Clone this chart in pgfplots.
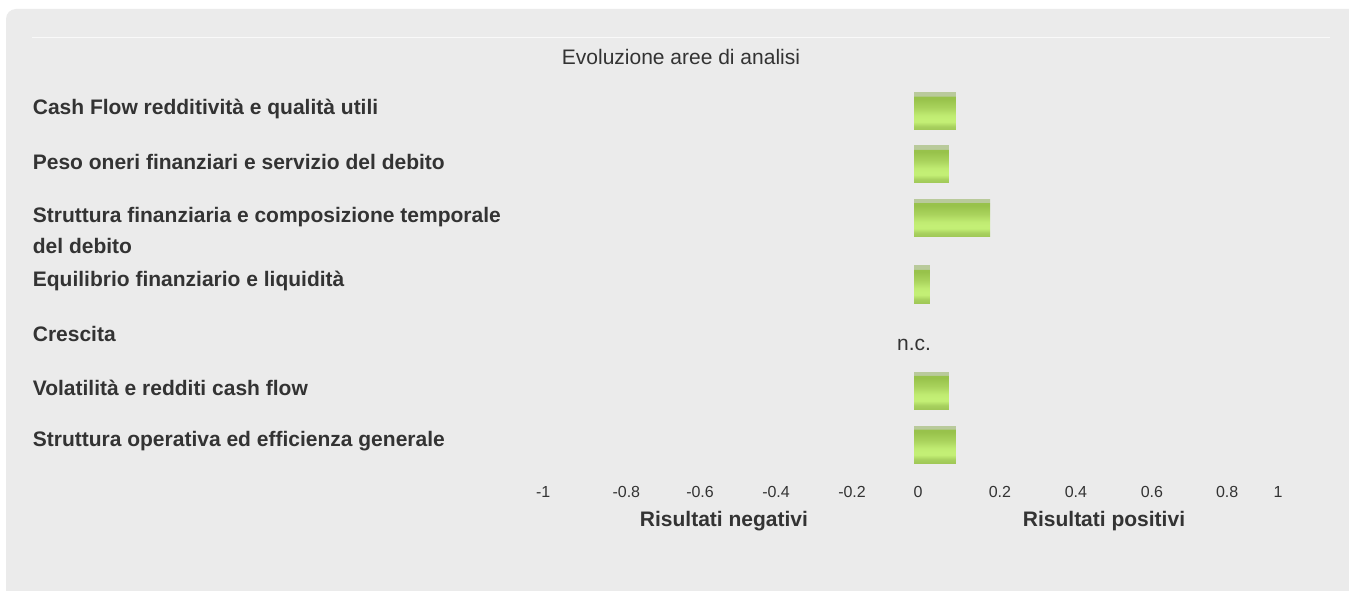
\documentclass[border=0pt]{standalone}
\usepackage{pgfplots}
\pgfplotsset{compat=1.18}
\usepackage{fontspec}
\setmainfont{Liberation Sans}
\definecolor{panel}{HTML}{EBEBEB}
\definecolor{labelc}{HTML}{333333}
\definecolor{gBot}{HTML}{A0C857}
\definecolor{gB2}{HTML}{A8D15F}
\definecolor{gLight}{HTML}{C3EF75}
\definecolor{gMid}{HTML}{AAD35D}
\definecolor{gDark}{HTML}{98C24B}
\definecolor{gStripe}{HTML}{B9CA9B}
\pgfdeclareverticalshading{barshade}{100bp}{color(0bp)=(gBot); color(25bp)=(gBot); color(30bp)=(gB2); color(36bp)=(gLight); color(40bp)=(gLight); color(45bp)=(gLight!85!gMid); color(55bp)=(gMid); color(67bp)=(gDark); color(70.5bp)=(gDark); color(71bp)=(gStripe); color(75bp)=(gStripe); color(100bp)=(gStripe)}
\begin{document}
\begin{tikzpicture}
\useasboundingbox (0,0) rectangle (674.5pt,295pt);
\fill[white] (0,0) rectangle (674.5pt,295pt);
\begin{scope}
\clip (0,0) rectangle (674.5pt,295pt);
\fill[panel, rounded corners=5pt] (3pt,-10pt) rectangle (690pt,290.5pt);
\end{scope}
\draw[line width=0.5pt, color=white!70!panel] (16pt,276pt) -- (665pt,276pt);
\node[font=\fontsize{10.5}{12}\selectfont, text=labelc] at (340.5pt,266.5pt) {Evoluzione aree di analisi};
\begin{axis}[
  at={(267pt,57.5pt)}, anchor=south west,
  scale only axis, width=380pt, height=197.5pt,
  xmin=-1, xmax=1, ymin=115, ymax=510,
  xbar, bar width=18.5pt, bar shift=0pt,
  axis line style={draw=none},
  tick style={draw=none},
  clip=false,
  every axis plot/.append style={draw=none, shade, shading=barshade},
  xtick={-0.976,-0.757,-0.563,-0.363,-0.163,0.0105,0.226,0.426,0.626,0.824,0.958},
  xticklabels={-1,-0.8,-0.6,-0.4,-0.2,0,0.2,0.4,0.6,0.8,1},
  xticklabel style={font=\fontsize{8}{9.6}\selectfont, text=labelc, inner sep=0pt, anchor=north, yshift=-5.6pt},
  ytick={481,428,359.5,309,256,202,149},
  yticklabels={Cash Flow redditività e qualità utili,
    Peso oneri finanziari e servizio del debito,
    {Struttura finanziaria e composizione temporale\\del debito},
    Equilibrio finanziario e liquidità,
    Crescita,
    Volatilità e redditi cash flow,
    Struttura operativa ed efficienza generale},
  yticklabel style={anchor=west, xshift=-246.5pt, inner sep=0pt, align=left,
    font=\fontsize{10.5}{15.5}\selectfont\bfseries, text=labelc},
]
\addplot coordinates {(0.11,478.5)};
\addplot coordinates {(0.092,425.5)};
\addplot coordinates {(0.2,372)};
\addplot coordinates {(0.042,305.5)};
\addplot coordinates {(0.092,199.5)};
\addplot coordinates {(0.11,145.5)};
\node[font=\fontsize{10.5}{12}\selectfont, text=labelc] at (axis cs:0,245) {n.c.};
\node[font=\fontsize{10.5}{12}\selectfont\bfseries, text=labelc] at (axis cs:-0.5,69) {Risultati negativi};
\node[font=\fontsize{10.5}{12}\selectfont\bfseries, text=labelc] at (axis cs:0.5,69) {Risultati positivi};
\end{axis}
\end{tikzpicture}
\end{document}
